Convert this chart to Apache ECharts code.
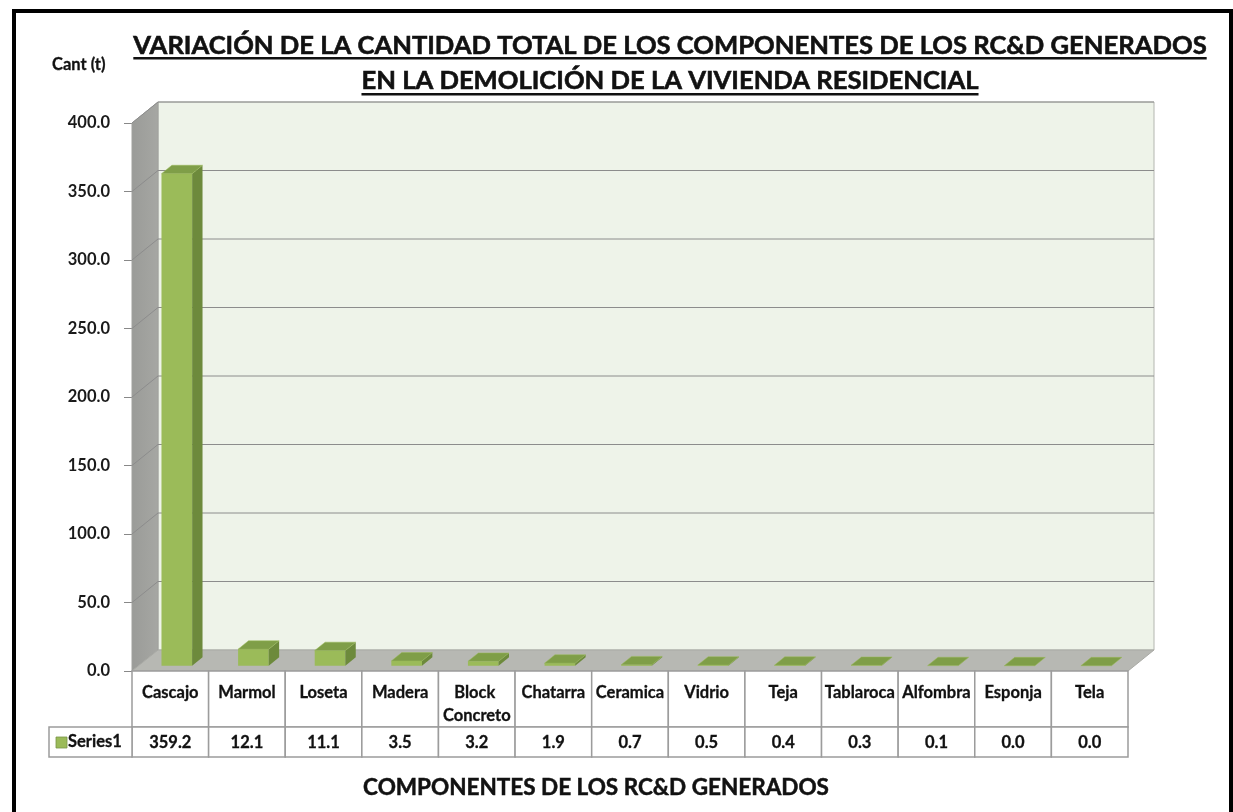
<!DOCTYPE html>
<html>
<head>
<meta charset="utf-8">
<script src="https://cdn.jsdelivr.net/npm/echarts@6/dist/echarts.min.js"></script>
<style>html,body{margin:0;padding:0;background:#fff}#c{width:1233px;height:812px}</style>
</head>
<body>
<div id="c"></div>
<script>
const categories = ['Cascajo','Marmol','Loseta','Madera','Block Concreto','Chatarra','Ceramica','Vidrio','Teja','Tablaroca','Alfombra','Esponja','Tela'];
const values = [359.2, 12.1, 11.1, 3.5, 3.2, 1.9, 0.7, 0.5, 0.4, 0.3, 0.1, 0.0, 0.0];
const seriesName = 'Series1';
const yMin = 0, yMax = 400, yStep = 50;
const titleLines = ['VARIACIÓN DE LA CANTIDAD TOTAL DE LOS COMPONENTES DE LOS RC&D GENERADOS', 'EN LA DEMOLICIÓN DE LA VIVIENDA RESIDENCIAL'];
const yAxisTitle = 'Cant (t)';
const xAxisTitle = 'COMPONENTES DE LOS RC&D GENERADOS';

const FONT = 'Lato, "Open Sans", sans-serif';
const DX = 26, DY = -21;          // 3D depth offset
const BAR_F = 0.25, BAR_D = 0.4;  // bar position and depth as fraction of wall depth
const ROW1 = 56, ROW2 = 30, HEAD_W = 83;
const TABLE_LINE = '#9c9c9c';
const TFONT = 'bold 16.5px ' + FONT;

const chart = echarts.init(document.getElementById('c'), null, {renderer: 'canvas'});

const ticks = [];
for (let v = yMin; v <= yMax; v += yStep) ticks.push(v);

function measure(text, font) {
  const ctx = document.createElement('canvas').getContext('2d');
  ctx.font = font;
  return ctx.measureText(text).width;
}
const T1FONT = 'bold 25.6px ' + FONT;
const w1 = measure(titleLines[0], T1FONT);
const w2 = measure(titleLines[1], T1FONT);

function renderFrame(params, api) {
  const cs = params.coordSys;
  const L = cs.x, R = cs.x + cs.width;
  const y0 = api.coord([0, yMin])[1];
  const yT = api.coord([0, yMax])[1];
  const ch = [];
  ch.push({type: 'rect', shape: {x: L + DX, y: yT + DY, width: R - L, height: y0 - yT},
    style: {fill: '#EEF3E9', stroke: '#b4b6b0', lineWidth: 1}});
  ch.push({type: 'polygon', shape: {points: [[L, yT], [L + DX, yT + DY], [L + DX, y0 + DY], [L, y0]]},
    style: {fill: new echarts.graphic.LinearGradient(0, 0, 1, 0, [{offset: 0, color: '#9a9b98'}, {offset: 1, color: '#a6a7a3'}]), stroke: '#a0a19d', lineWidth: 1}});
  ch.push({type: 'polygon', shape: {points: [[L, y0], [R, y0], [R + DX, y0 + DY], [L + DX, y0 + DY]]},
    style: {fill: '#b7b8b3', stroke: '#a9aaa5', lineWidth: 1}});
  ticks.forEach(t => {
    if (t === yMin) return;
    const y = api.coord([0, t])[1];
    ch.push({type: 'polyline', shape: {points: [[L, y], [L + DX, y + DY], [R + DX, y + DY]]},
      style: {stroke: '#8c8c8c', lineWidth: 1, fill: null}});
  });
  return {type: 'group', children: ch};
}

function renderBar(params, api) {
  const i = api.value(0), v = api.value(1);
  const c = api.coord([i, v]);
  const base = api.coord([i, 0]);
  const bw = api.size([1, 0])[0] * 0.4;
  const fx = BAR_F * DX, fy = BAR_F * DY;
  const dx = BAR_D * DX, dy = BAR_D * DY;
  const x1 = c[0] - bw / 2 + fx, x2 = c[0] + bw / 2 + fx;
  const yt = c[1] + fy, yb = base[1] + fy;
  return {type: 'group', children: [
    {type: 'rect', shape: {x: x1, y: yt, width: x2 - x1, height: Math.max(yb - yt, 0)}, style: {fill: '#9BBB59'}},
    {type: 'polygon', shape: {points: [[x2, yt], [x2 + dx, yt + dy], [x2 + dx, yb + dy], [x2, yb]]}, style: {fill: '#6d8a3c'}},
    {type: 'polygon', shape: {points: [[x1, yt], [x1 + dx, yt + dy], [x2 + dx, yt + dy], [x2, yt]]}, style: {fill: '#7f9e48', stroke: '#9BBB59', lineWidth: 0.5}}
  ]};
}

function renderTable(params, api) {
  const i = api.value(0);
  const c = api.coord([i, 0]);
  const cw = api.size([1, 0])[0];
  const x = c[0] - cw / 2, y0 = c[1];
  const ch = [
    {type: 'rect', shape: {x: x, y: y0, width: cw, height: ROW1}, style: {fill: '#fff', stroke: TABLE_LINE, lineWidth: 1.5}},
    {type: 'rect', shape: {x: x, y: y0 + ROW1, width: cw, height: ROW2}, style: {fill: '#fff', stroke: TABLE_LINE, lineWidth: 1.5}},
    {type: 'text', style: {x: c[0], y: y0 + 10, text: categories[i], width: cw - 2, overflow: 'break', align: 'center', verticalAlign: 'top', lineHeight: 23, font: TFONT, fill: '#111', stroke: '#111', lineWidth: 0.3}},
    {type: 'text', style: {x: c[0], y: y0 + ROW1 + ROW2 / 2 + 1, text: values[i].toFixed(1), align: 'center', verticalAlign: 'middle', font: TFONT, fill: '#111', stroke: '#111', lineWidth: 0.3}}
  ];
  if (i === 0) {
    ch.push({type: 'rect', shape: {x: x - HEAD_W, y: y0 + ROW1, width: HEAD_W, height: ROW2}, style: {fill: '#fff', stroke: TABLE_LINE, lineWidth: 1.5}});
    ch.push({type: 'rect', shape: {x: x - HEAD_W + 7, y: y0 + ROW1 + 10, width: 11, height: 11}, style: {fill: '#9BBB59', stroke: '#7a9446', lineWidth: 0.8}});
    ch.push({type: 'text', style: {x: x - HEAD_W + 19, y: y0 + ROW1 + ROW2 / 2, text: seriesName, align: 'left', verticalAlign: 'middle', font: TFONT, fill: '#111', stroke: '#111', lineWidth: 0.3}});
  }
  return {type: 'group', children: ch};
}

const option = {
  backgroundColor: '#ffffff',
  animation: false,
  grid: {left: 132, right: 105, top: 123, bottom: 141},
  xAxis: {type: 'category', data: categories, boundaryGap: true,
    axisLine: {show: false}, axisTick: {show: false}, axisLabel: {show: false}, splitLine: {show: false}},
  yAxis: {type: 'value', min: yMin, max: yMax, interval: yStep,
    axisLine: {show: false},
    axisTick: {show: true, length: 8, lineStyle: {color: '#888', width: 1}},
    axisLabel: {formatter: v => v.toFixed(1), margin: 22, fontFamily: FONT, fontWeight: 'bold', fontSize: 16.5, color: '#1a1a1a'},
    splitLine: {show: false}},
  series: [
    {type: 'custom', name: 'frame', z: 1, silent: true, data: [[0, 0]], renderItem: renderFrame, clip: false},
    {type: 'custom', name: seriesName, z: 2, data: values.map((v, i) => [i, v]), renderItem: renderBar, clip: false},
    {type: 'custom', name: 'table', z: 3, silent: true, data: categories.map((c, i) => [i, 0]), renderItem: renderTable, clip: false}
  ],
  graphic: [
    {type: 'rect', shape: {x: 14, y: 11, width: 1217, height: 900}, style: {fill: null, stroke: '#000', lineWidth: 4}, z: 10},
    {type: 'text', x: 670, y: 46, style: {text: titleLines[0], font: T1FONT, fill: '#111', stroke: '#111', lineWidth: 0.6, align: 'center', verticalAlign: 'middle'}},
    {type: 'rect', x: 670 - w1 / 2, y: 57, shape: {x: 0, y: 0, width: w1, height: 2.5}, style: {fill: '#111'}},
    {type: 'text', x: 670, y: 81, style: {text: titleLines[1], font: T1FONT, fill: '#111', stroke: '#111', lineWidth: 0.6, align: 'center', verticalAlign: 'middle'}},
    {type: 'rect', x: 670 - w2 / 2, y: 93, shape: {x: 0, y: 0, width: w2, height: 2.5}, style: {fill: '#111'}},
    {type: 'text', x: 52, y: 65, style: {text: yAxisTitle, font: 'bold 16.5px ' + FONT, fill: '#111', stroke: '#111', lineWidth: 0.3, align: 'left', verticalAlign: 'middle'}},
    {type: 'text', x: 596, y: 788, style: {text: xAxisTitle, font: 'bold 22.5px ' + FONT, fill: '#111', stroke: '#111', lineWidth: 0.5, align: 'center', verticalAlign: 'middle'}}
  ]
};
chart.setOption(option);
</script>
</body>
</html>
